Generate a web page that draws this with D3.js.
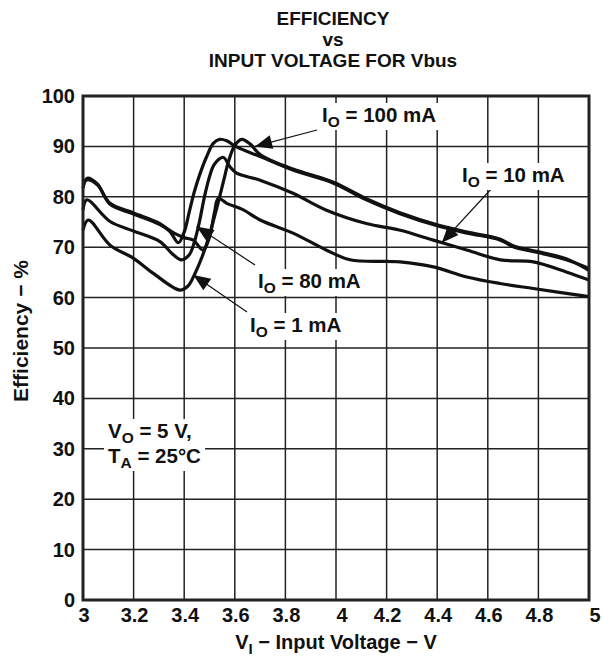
<!DOCTYPE html>
<meta charset="utf-8">
<script src="https://d3js.org/d3.v7.min.js"></script>
<style>
  body { margin: 0; background: #fff; }
  text { font-family: "Liberation Sans", Arial, sans-serif; font-weight: bold; fill: #111; }
</style>
<div id="chart"></div>
<script>

// axis ticks
var xTicks = [3, 3.2, 3.4, 3.6, 3.8, 4, 4.2, 4.4, 4.6, 4.8, 5];
var yTicks = [0, 10, 20, 30, 40, 50, 60, 70, 80, 90, 100];

// curves (V in volts, efficiency in %)
// top-left branch -> first 91 % peak -> top-right branch
var vA = [3.0, 3.017, 3.054, 3.107, 3.2, 3.304, 3.344, 3.377, 3.40, 3.42, 3.44, 3.462, 3.489, 3.515, 3.54, 3.568, 3.607, 3.70, 3.83, 3.99, 4.12, 4.25, 4.41, 4.52, 4.65, 4.70, 4.81, 4.91, 5.0];
var eA = [81.7, 83.7, 82.7, 78.7, 76.8, 74.7, 73.1, 70.9, 73, 77, 81, 84.5, 88, 90.6, 91.4, 91.1, 89.9, 88, 85.3, 82.7, 79.4, 76.7, 74.1, 72.8, 71.4, 70.1, 68.8, 67.5, 65.8];

// top-left branch -> small loop -> 80 % peak -> bottom-right branch
var vB = [3.0, 3.02, 3.06, 3.107, 3.2, 3.304, 3.36, 3.40, 3.436, 3.475, 3.50, 3.52, 3.535, 3.568, 3.634, 3.70, 3.83, 3.963, 4.055, 4.253, 4.385, 4.517, 4.648, 4.78, 5.0];
var eB = [83, 83.4, 82.2, 78.5, 76.6, 74.5, 72.8, 71.9, 71.4, 69.4, 72, 77, 79.7, 78.7, 77.4, 75.4, 72.8, 69.4, 67.5, 67.1, 66.1, 64.1, 62.8, 61.8, 60.2];

// middle-left branch -> 88 % peak -> middle-right branch
var vC = [3.0, 3.015, 3.107, 3.2, 3.304, 3.357, 3.39, 3.42, 3.44, 3.46, 3.48, 3.50, 3.52, 3.555, 3.58, 3.607, 3.70, 3.83, 3.96, 4.12, 4.25, 4.385, 4.52, 4.65, 4.78, 4.91, 5.0];
var eC = [77.4, 79.4, 75.1, 73.2, 71.1, 68.5, 67.5, 68.5, 71, 75, 80, 84, 86.5, 87.8, 86, 84.7, 83.3, 80.7, 77.4, 74.7, 73.4, 71.4, 69.4, 67.5, 67.1, 65.1, 63.5];

// bottom-left branch -> second 91 % peak -> top-right branch
var vD = [3.0, 3.021, 3.107, 3.2, 3.278, 3.383, 3.415, 3.44, 3.47, 3.50, 3.53, 3.555, 3.575, 3.60, 3.627, 3.66, 3.70, 3.83, 3.99, 4.12, 4.25, 4.41, 4.52, 4.65, 4.70, 4.81, 4.91, 5.0];
var eD = [73.4, 75.4, 70.4, 67.8, 64.8, 61.5, 62.3, 64.5, 68, 72.5, 78, 83, 87, 90.2, 91.4, 90.5, 88.4, 85.5, 82.9, 79.6, 76.9, 74.3, 73, 71.6, 70.3, 69, 67.7, 65.4];

var W = 602, H = 664;
var pL = 83, pR = 589, pT = 96, pB = 600;

var svg = d3.select("#chart").append("svg")
  .attr("width", W).attr("height", H);

var x = d3.scaleLinear().domain([3, 5]).range([pL, pR]);
var y = d3.scaleLinear().domain([0, 100]).range([pB, pT]);

// grid
svg.append("g").selectAll("line").data(xTicks.slice(1, -1)).enter().append("line")
  .attr("x1", function(d) { return x(d); }).attr("x2", function(d) { return x(d); })
  .attr("y1", pT).attr("y2", pB)
  .style("stroke", "#222").style("stroke-width", 1.5);
svg.append("g").selectAll("line").data(yTicks.slice(1, -1)).enter().append("line")
  .attr("y1", function(d) { return y(d); }).attr("y2", function(d) { return y(d); })
  .attr("x1", pL).attr("x2", pR)
  .style("stroke", "#222").style("stroke-width", 1.5);

// tick labels
svg.append("g").selectAll("text").data(xTicks).enter().append("text")
  .attr("x", function(d) { return x(d) + (d === 4 || d === 5 ? 6 : 1); }).attr("y", 622)
  .attr("text-anchor", "middle").style("font-size", "20px")
  .text(function(d) { return d; });
svg.append("g").selectAll("text").data(yTicks).enter().append("text")
  .attr("x", 75).attr("y", function(d) { return y(d) + 7; })
  .attr("text-anchor", "end").style("font-size", "20px")
  .text(function(d) { return d; });

// curves
var line = d3.line().x(function(d) { return x(d[0]); }).y(function(d) { return y(d[1]); })
  .curve(d3.curveCatmullRom.alpha(0.5));
var series = [[vA, eA], [vB, eB], [vC, eC], [vD, eD]];
svg.append("g").selectAll("path").data(series).enter().append("path")
  .attr("d", function(s) { return line(d3.zip(s[0], s[1])); })
  .style("fill", "none").style("stroke", "#111").style("stroke-width", 3.2)
  .style("stroke-linejoin", "round");

// frame
svg.append("rect").attr("x", pL).attr("y", pT)
  .attr("width", pR - pL).attr("height", pB - pT)
  .style("fill", "none").style("stroke", "#222").style("stroke-width", 3);

// annotations: label with white box, arrow pointing at curve
function note(parts, tx, ty, size) {
  var g = svg.append("g");
  var t = g.append("text").attr("x", tx).attr("y", ty).style("font-size", size + "px");
  t.append("tspan").text(parts[0]);
  t.append("tspan").attr("dy", 5).style("font-size", (size - 5) + "px").text(parts[1]);
  t.append("tspan").attr("dy", -5).text(parts[2]);
  var b = t.node().getBBox();
  g.insert("rect", "text").attr("x", b.x - 4).attr("y", b.y)
    .attr("width", b.width + 8).attr("height", b.height).style("fill", "#fff");
}
function arrow(x1, y1, x2, y2) {
  svg.append("line").attr("x1", x1).attr("y1", y1).attr("x2", x2).attr("y2", y2)
    .style("stroke", "#111").style("stroke-width", 1.2);
  var a = Math.atan2(y2 - y1, x2 - x1), L = 17, w = 7;
  var bx = x2 - L * Math.cos(a), by = y2 - L * Math.sin(a);
  svg.append("path")
    .attr("d", "M" + x2 + "," + y2 +
      "L" + (bx + w * Math.sin(a)) + "," + (by - w * Math.cos(a)) +
      "L" + (bx - w * Math.sin(a)) + "," + (by + w * Math.cos(a)) + "Z")
    .style("fill", "#111");
}

arrow(317, 130, x(3.68), y(90));
note(["I", "O", " = 100 mA"], 322, 122, 20.5);
arrow(493, 187, x(4.418), y(70.9));
note(["I", "O", " = 10 mA"], 462, 182, 20.5);
arrow(255, 265, x(3.449), y(74.1));
note(["I", "O", " = 80 mA"], 258, 288, 20.5);
arrow(247, 312, x(3.436), y(64.5));
note(["I", "O", " = 1 mA"], 250, 332, 20.5);
note(["V", "O", " = 5 V,"], 108, 438, 20.5);
note(["T", "A", " = 25°C"], 108, 463, 20.5);

// titles
var title = ["EFFICIENCY", "vs", "INPUT VOLTAGE FOR Vbus"];
svg.append("g").selectAll("text").data(title).enter().append("text")
  .attr("x", 333).attr("y", function(d, i) { return 25 + i * 21; })
  .attr("text-anchor", "middle").style("font-size", "19px")
  .text(function(d) { return d; });

var xl = svg.append("text").attr("x", 336).attr("y", 649).attr("text-anchor", "middle")
  .style("font-size", "20px");
xl.append("tspan").text("V");
xl.append("tspan").attr("dy", 5).style("font-size", "15px").text("I");
xl.append("tspan").attr("dy", -5).text(" − Input Voltage − V");

svg.append("text").attr("transform", "translate(28,331) rotate(-90)")
  .attr("text-anchor", "middle").style("font-size", "21px")
  .text("Efficiency − %");

</script>
